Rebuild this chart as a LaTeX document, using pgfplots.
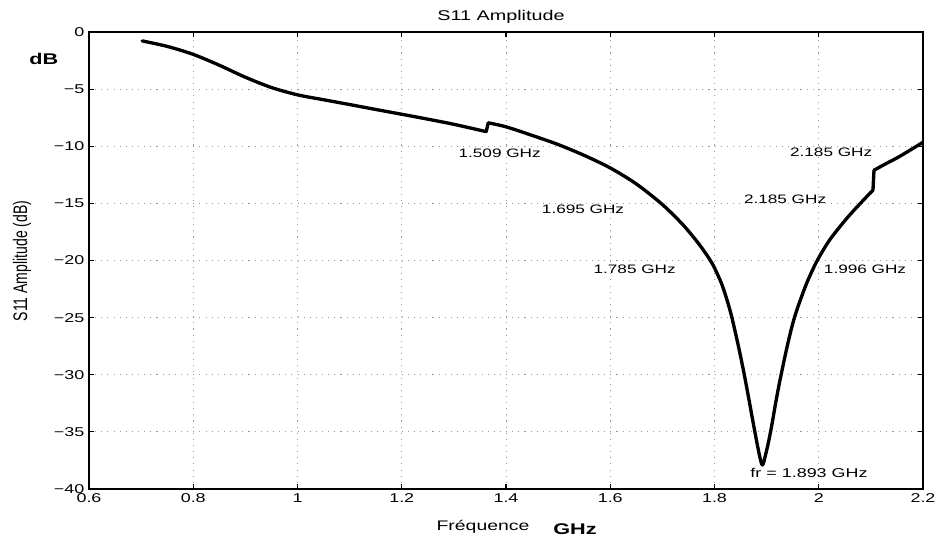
\documentclass[border=0pt]{standalone}
\usepackage{fontspec}
\setmainfont{Liberation Sans}[FakeStretch=1.4]
\newfontfamily\plainfont{Liberation Sans}
\usepackage{pgfplots}
\pgfplotsset{compat=1.18}
\begin{document}
\begin{tikzpicture}
\useasboundingbox (-66.75pt,-36.75pt) rectangle (635.25pt,366.75pt);
\begin{axis}[
  at={(0pt,0pt)}, anchor=south west,
  scale only axis, width=625.5pt, height=342.75pt,
  xmin=0.6, xmax=2.2, ymin=-40, ymax=0,
  xtick={0.6,0.8,1,1.2,1.4,1.6,1.8,2,2.2},
  xticklabels={0.6,0.8,1,1.2,1.4,1.6,1.8,2,2.2},
  ytick={-40,-35,-30,-25,-20,-15,-10,-5,0},
  yticklabels={−40,−35,−30,−25,−20,−15,−10,−5,0},
  tick pos=both, tick align=inside,
  ticklabel style={font=\fontsize{9.6}{11}\selectfont, black},
  grid=major,
  major grid style={dash pattern=on 0.8pt off 3.8pt, gray!80, line width=0.7pt},
  axis line style={line width=1.1pt, black},
  major tick style={line width=0.8pt, black},
  major tick length=4pt,
]
\addplot[black, no marks, line width=2.5pt, line join=round, line cap=round, smooth, tension=0.5] coordinates {
(0.702,-0.78) (0.750,-1.26) (0.800,-1.96) (0.850,-2.91) (0.900,-3.96)
(0.950,-4.86) (1.000,-5.50) (1.050,-5.93) (1.100,-6.35) (1.150,-6.78)
(1.200,-7.20) (1.250,-7.63) (1.300,-8.08) (1.362,-8.72)
};
\addplot[black, no marks, line width=2.5pt, line join=round, line cap=round] coordinates {(1.362,-8.72) (1.366,-7.95)};
\addplot[black, no marks, line width=2.5pt, line join=round, line cap=round, smooth, tension=0.5] coordinates {
(1.366,-7.95) (1.400,-8.30) (1.450,-9.05) (1.500,-9.85) (1.550,-10.80)
(1.600,-11.90) (1.650,-13.30) (1.700,-15.10) (1.740,-16.90) (1.770,-18.55)
(1.790,-19.85) (1.800,-20.65) (1.815,-22.20) (1.830,-24.40) (1.843,-26.90)
(1.855,-29.50) (1.865,-31.90) (1.875,-34.40) (1.886,-37.00)
(1.892,-37.90) (1.898,-37.00) (1.904,-35.80) (1.910,-34.40) (1.918,-32.30)
(1.926,-30.40) (1.940,-27.40) (1.954,-24.90) (1.975,-22.20) (1.996,-20.10)
(2.021,-18.20) (2.054,-16.30) (2.086,-14.70) (2.104,-13.85)
};
\addplot[black, no marks, line width=2.5pt, line join=round, line cap=round] coordinates {(2.104,-13.85) (2.106,-12.10)};
\addplot[black, no marks, line width=2.5pt, line join=round, line cap=round, smooth, tension=0.5] coordinates {
(2.106,-12.10) (2.130,-11.50) (2.149,-11.05) (2.175,-10.35) (2.200,-9.65)
};
\node[anchor=base west, font=\fontsize{9.2}{11}\selectfont] at (axis cs:1.300,-10.97) {1.509 GHz};
\node[anchor=base west, font=\fontsize{9.2}{11}\selectfont] at (axis cs:1.460,-15.93) {1.695 GHz};
\node[anchor=base west, font=\fontsize{9.2}{11}\selectfont] at (axis cs:1.559,-21.12) {1.785 GHz};
\node[anchor=base west, font=\fontsize{9.2}{11}\selectfont] at (axis cs:1.936,-10.91) {2.185 GHz};
\node[anchor=base west, font=\fontsize{9.2}{11}\selectfont] at (axis cs:1.8476,-15.05) {2.185 GHz};
\node[anchor=base west, font=\fontsize{9.2}{11}\selectfont] at (axis cs:2.001,-21.12) {1.996 GHz};
\node[anchor=base west, font=\fontsize{9.6}{11}\selectfont] at (axis cs:1.860,-38.98) {fr = 1.893 GHz};
\end{axis}
\node[anchor=base, font=\fontsize{10.6}{12}\selectfont, inner sep=0pt] at (309pt,351pt) {S11 Amplitude};
\node[anchor=base, font=\fontsize{11.6}{13}\selectfont\bfseries, inner sep=0pt] at (-33.9pt,318pt) {dB};
\node[anchor=center, inner sep=0pt] at (-50.25pt,171pt) {\scalebox{1.4}[1]{\rotatebox{90}{\plainfont\fontsize{10.5}{12}\selectfont S11 Amplitude (dB)}}};
\node[anchor=base, font=\fontsize{10.4}{12}\selectfont, inner sep=0pt] at (295.5pt,-31.5pt) {Fréquence};
\node[anchor=base, font=\fontsize{11.6}{13}\selectfont\bfseries, inner sep=0pt] at (364.5pt,-34.5pt) {GHz};
\end{tikzpicture}
\end{document}
